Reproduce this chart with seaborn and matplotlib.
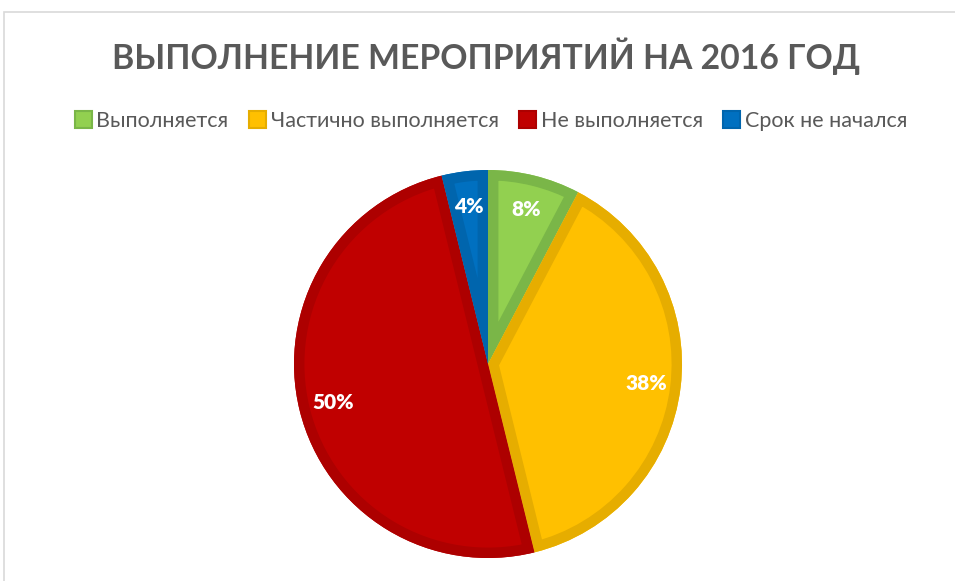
import matplotlib
matplotlib.use("Agg")
import matplotlib.pyplot as plt
import seaborn as sns
from matplotlib.patches import Rectangle, Wedge

categories = ["Выполняется", "Частично выполняется", "Не выполняется", "Срок не начался"]
counts = [2, 10, 13, 1]   # number of measures; shares 8%, 38%, 50%, 4%
colors = ["#92D050", "#FFC000", "#C00000", "#0070C0"]
edge_colors = ["#7AB648", "#E6AD00", "#AD0000", "#0065AD"]
title = "ВЫПОЛНЕНИЕ МЕРОПРИЯТИЙ НА 2016 ГОД"

sns.set_theme(style="white")
plt.rcParams['font.family'] = ['Lato', 'DejaVu Sans']

W, H = 955, 581
fig = plt.figure(figsize=(W / 100, H / 100), dpi=100)
fig.patch.set_facecolor("white")

# chart frame
fig.add_artist(Rectangle((4 / W, -0.1), 1.1, (H - 12) / H + 0.1, transform=fig.transFigure,
                         fill=False, edgecolor="#D9D9D9", linewidth=1.2))

cx, cy, r = 488, H - 364, 194
ax = fig.add_axes([(cx - r) / W, (cy - r) / H, 2 * r / W, 2 * r / H])
wedges, texts, autotexts = ax.pie(
    counts, colors=colors, startangle=90, counterclock=False,
    autopct=lambda p: f"{p:.0f}%", pctdistance=0.82, radius=1.0,
    wedgeprops=dict(linewidth=0),
)
ax.set_xlim(-1, 1)
ax.set_ylim(-1, 1)
ax.set_aspect("equal")
ax.axis("off")

# inner darker border for each slice (stroke clipped to the slice itself)
for w, ec in zip(wedges, edge_colors):
    b = Wedge(w.center, w.r, w.theta1, w.theta2, facecolor="none", edgecolor=ec,
              linewidth=15, zorder=w.get_zorder() + 0.1)
    ax.add_patch(b)
    b.set_clip_path(w.get_path(), ax.transData)

for t in autotexts:
    t.set_color("white")
    t.set_fontsize(15)
    t.set_fontweight("heavy")
    t.set_zorder(5)

fig.text(486 / W, 1 - 56 / H, title, ha="center", va="center", fontsize=24.3,
         fontweight="bold", color="#595959")

handles = [Rectangle((0, 0), 1, 1, facecolor=c, edgecolor=e, linewidth=1.5)
           for c, e in zip(colors, edge_colors)]
fig.legend(handles, categories, loc="center", bbox_to_anchor=(491 / W, 1 - 121 / H),
           ncol=4, frameon=False, fontsize=15.5, handlelength=0.8, handleheight=0.8,
           handletextpad=0.2, columnspacing=0.95, labelcolor="#595959")

fig.savefig("out.png", dpi=100)
